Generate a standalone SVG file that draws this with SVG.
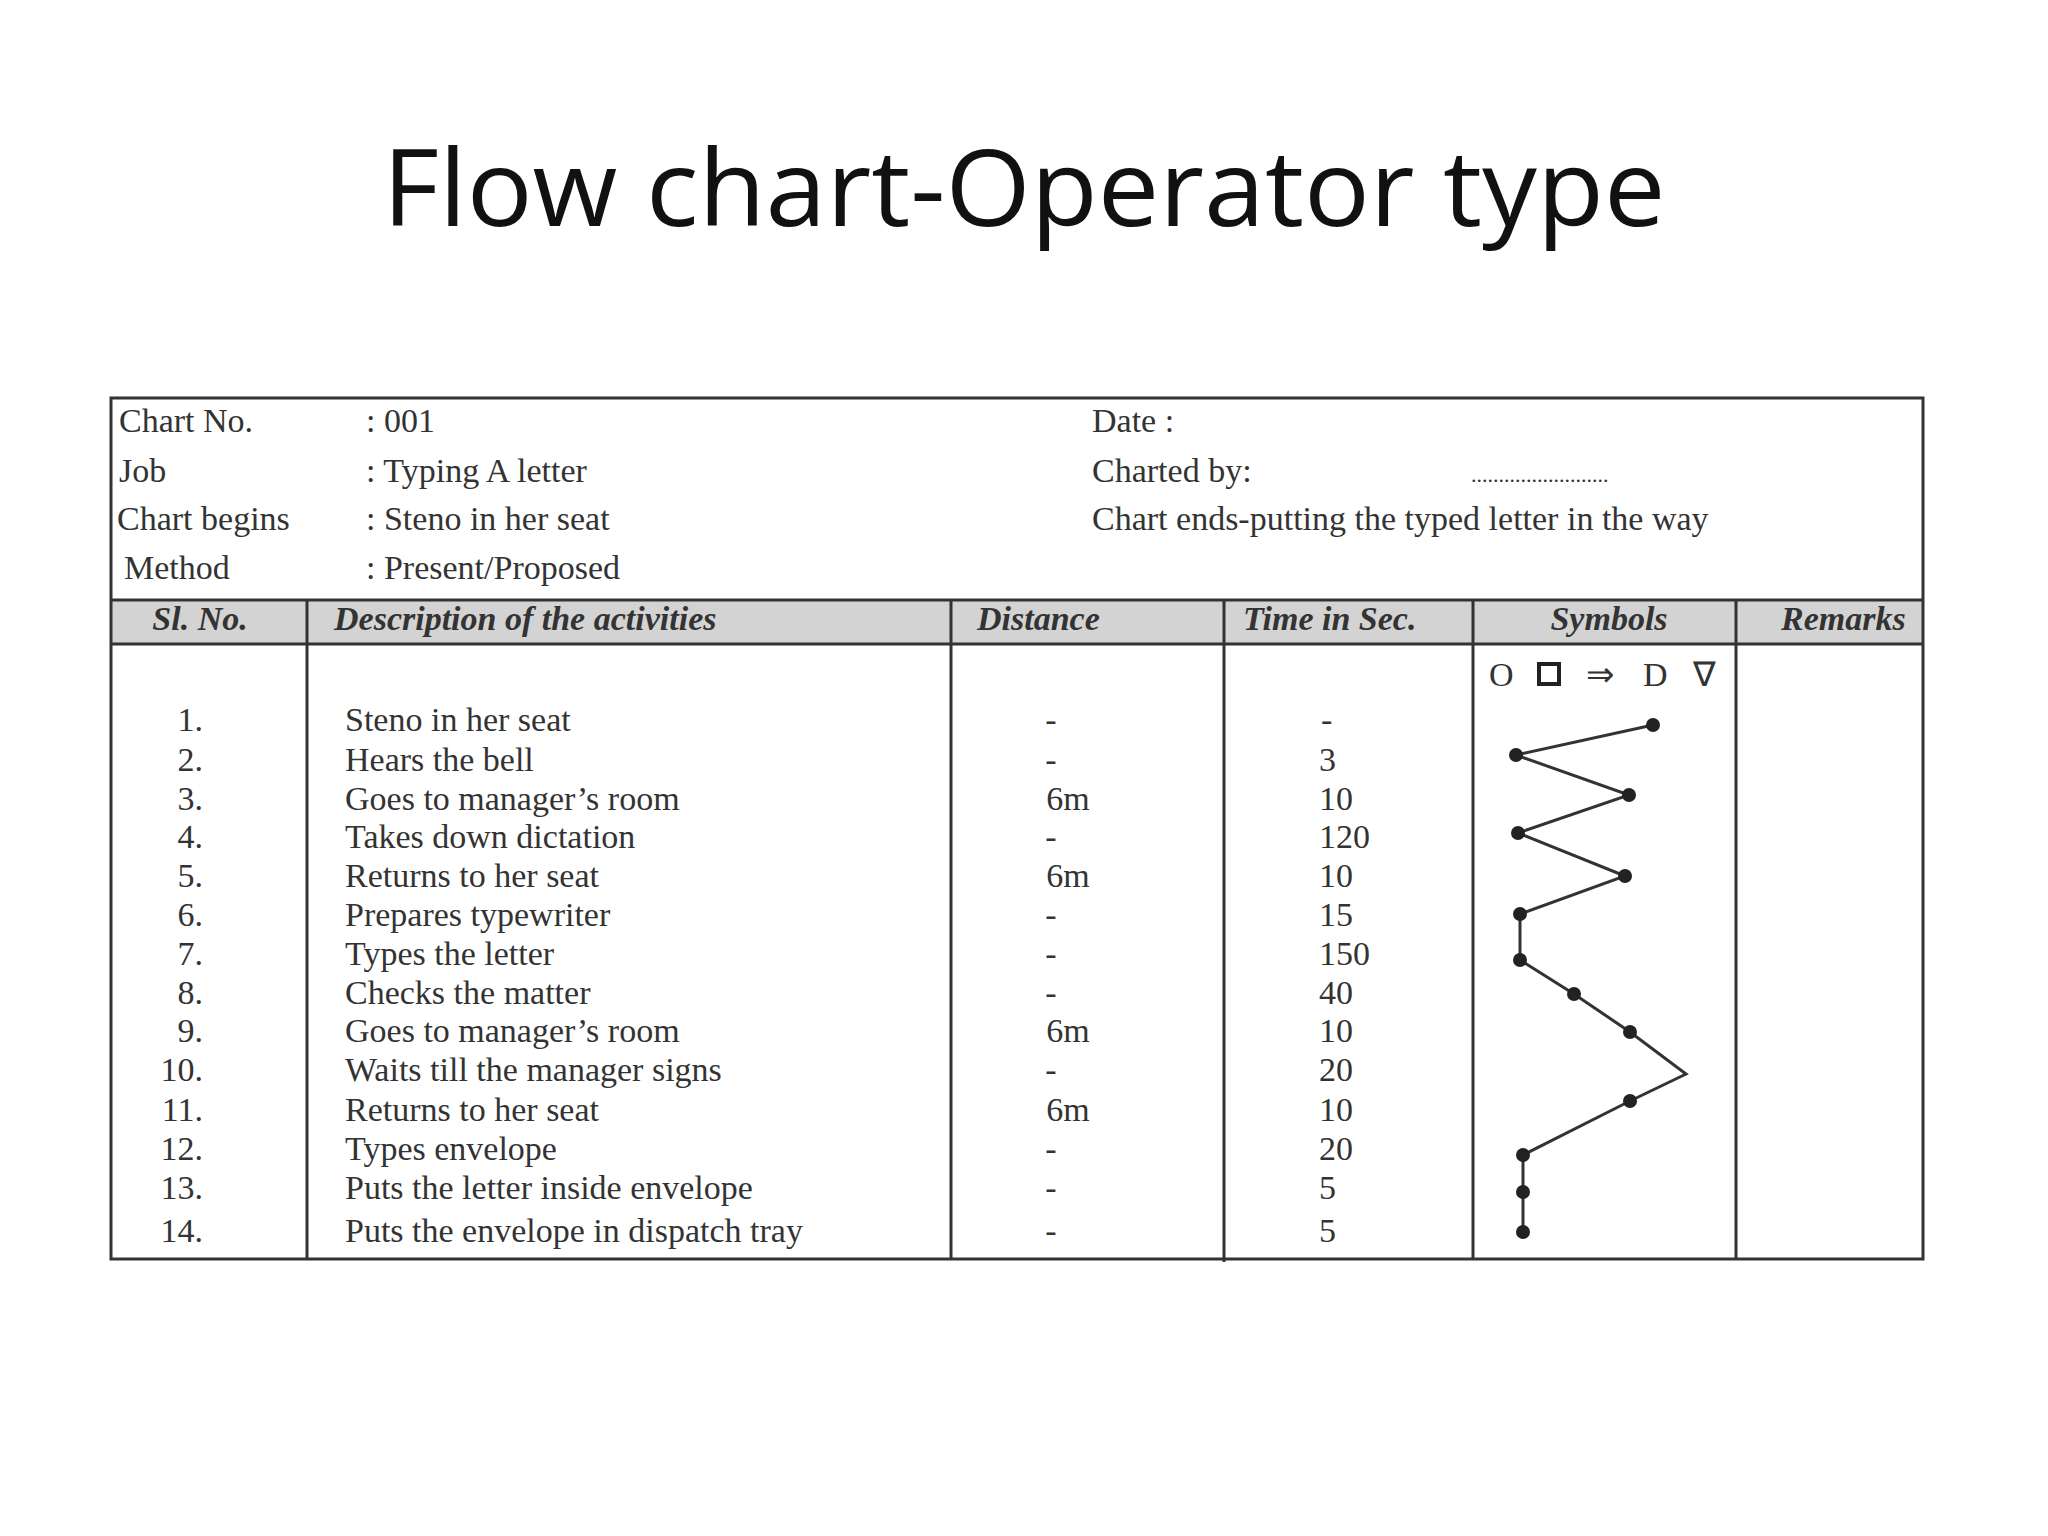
<svg xmlns="http://www.w3.org/2000/svg" width="2048" height="1536" viewBox="0 0 2048 1536">
<style>
.t{font-family:"Liberation Serif",serif;font-size:34px;fill:#333}
.h{font-family:"Liberation Serif",serif;font-size:34px;font-style:italic;font-weight:bold;fill:#333}
.ln{stroke:#333;stroke-width:3;fill:none}
.d{fill:#222}
</style>
<rect width="2048" height="1536" fill="#fff"/>
<text x="1024" y="226" text-anchor="middle" font-family="'Open Sans','Noto Sans',sans-serif" font-size="106" fill="#111" textLength="1283" lengthAdjust="spacingAndGlyphs">Flow chart-Operator type</text>
<g id="table">
<rect x="600" y="0" width="0" height="0"/>
<rect x="111" y="600" width="1812" height="44" fill="#d3d3d3"/>
<rect x="111" y="398" width="1812" height="861" class="ln"/>
<line x1="111" y1="600" x2="1923" y2="600" class="ln"/>
<line x1="111" y1="644" x2="1923" y2="644" class="ln"/>
<line x1="307" y1="600" x2="307" y2="1259" class="ln"/>
<line x1="951" y1="600" x2="951" y2="1259" class="ln"/>
<line x1="1224" y1="600" x2="1224" y2="1262" class="ln"/>
<line x1="1473" y1="600" x2="1473" y2="1259" class="ln"/>
<line x1="1736" y1="600" x2="1736" y2="1259" class="ln"/>
</g>
<g id="info" class="t">
<text x="119" y="432">Chart No.</text><text x="366" y="432">: 001</text>
<text x="119" y="482">Job</text><text x="366" y="482">: Typing A letter</text>
<text x="117" y="530">Chart begins</text><text x="366" y="530">: Steno in her seat</text>
<text x="124" y="579">Method</text><text x="366" y="579">:  Present/Proposed</text>
<text x="1092" y="432">Date :</text>
<text x="1092" y="482">Charted by:</text>
<text x="1471" y="482" font-size="22">.........................</text>
<text x="1092" y="530">Chart ends-putting the typed letter in the way</text>
</g>
<g id="headers" class="h">
<text x="200" y="630" text-anchor="middle">Sl. No.</text>
<text x="334" y="630">Description of the activities</text>
<text x="977" y="630">Distance</text>
<text x="1243" y="630">Time in Sec.</text>
<text x="1609" y="630" text-anchor="middle">Symbols</text>
<text x="1781" y="630">Remarks</text>
</g>
<g id="symbols" class="t" font-size="36">
<text x="1489" y="686">O</text>
<rect x="1539" y="664" width="20" height="20" fill="none" stroke="#222" stroke-width="4"/>
<text x="1586" y="686">⇒</text>
<text x="1643" y="686">D</text>
<text x="1693" y="686">∇</text>
</g>
<g id="rows" class="t">
<g text-anchor="end">
<text x="203" y="731">1.</text><text x="203" y="771">2.</text><text x="203" y="810">3.</text><text x="203" y="848">4.</text><text x="203" y="887">5.</text><text x="203" y="926">6.</text><text x="203" y="965">7.</text><text x="203" y="1004">8.</text><text x="203" y="1042">9.</text><text x="203" y="1081">10.</text><text x="203" y="1121">11.</text><text x="203" y="1160">12.</text><text x="203" y="1199">13.</text><text x="203" y="1242">14.</text>
</g>
<text x="345" y="731">Steno in her seat</text>
<text x="345" y="771">Hears the bell</text>
<text x="345" y="810">Goes to manager’s room</text>
<text x="345" y="848">Takes down dictation</text>
<text x="345" y="887">Returns to her seat</text>
<text x="345" y="926">Prepares typewriter</text>
<text x="345" y="965">Types the letter</text>
<text x="345" y="1004">Checks the matter</text>
<text x="345" y="1042">Goes to manager’s room</text>
<text x="345" y="1081">Waits till the manager signs</text>
<text x="345" y="1121">Returns to her seat</text>
<text x="345" y="1160">Types envelope</text>
<text x="345" y="1199">Puts the letter inside envelope</text>
<text x="345" y="1242">Puts the envelope in dispatch tray</text>
<g text-anchor="middle">
<text x="1051" y="731">-</text><text x="1051" y="771">-</text><text x="1068" y="810">6m</text><text x="1051" y="848">-</text><text x="1068" y="887">6m</text><text x="1051" y="926">-</text><text x="1051" y="965">-</text><text x="1051" y="1004">-</text><text x="1068" y="1042">6m</text><text x="1051" y="1081">-</text><text x="1068" y="1121">6m</text><text x="1051" y="1160">-</text><text x="1051" y="1199">-</text><text x="1051" y="1242">-</text>
</g>
<text x="1321" y="731">-</text><text x="1319" y="771">3</text><text x="1319" y="810">10</text><text x="1319" y="848">120</text><text x="1319" y="887">10</text><text x="1319" y="926">15</text><text x="1319" y="965">150</text><text x="1319" y="1004">40</text><text x="1319" y="1042">10</text><text x="1319" y="1081">20</text><text x="1319" y="1121">10</text><text x="1319" y="1160">20</text><text x="1319" y="1199">5</text><text x="1319" y="1242">5</text>
</g>
<g id="connectors">
<polyline class="ln" points="1653,725 1516,755 1629,795 1518,833 1625,876 1520,914 1520,960 1574,994 1630,1032 1686,1074 1630,1101 1523,1155 1523,1192 1523,1232"/>
</g>
<g id="points" class="d">
<circle cx="1653" cy="725" r="7"/><circle cx="1516" cy="755" r="7"/><circle cx="1629" cy="795" r="7"/><circle cx="1518" cy="833" r="7"/><circle cx="1625" cy="876" r="7"/><circle cx="1520" cy="914" r="7"/><circle cx="1520" cy="960" r="7"/><circle cx="1574" cy="994" r="7"/><circle cx="1630" cy="1032" r="7"/><circle cx="1630" cy="1101" r="7"/><circle cx="1523" cy="1155" r="7"/><circle cx="1523" cy="1192" r="7"/><circle cx="1523" cy="1232" r="7"/>
</g>
</svg>
